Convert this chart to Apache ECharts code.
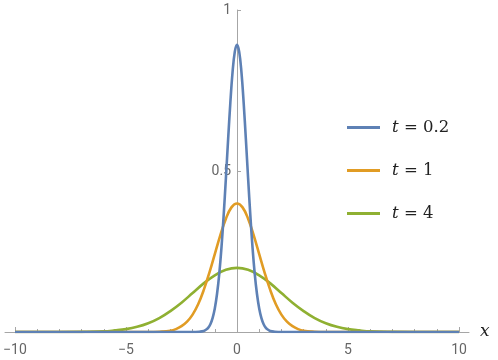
<!DOCTYPE html>
<html>
<head>
<meta charset="utf-8">
<script src="https://cdn.jsdelivr.net/npm/echarts@6/dist/echarts.min.js"></script>
<style>
  html, body { margin: 0; padding: 0; background: #fff; }
  #chart { width: 498px; height: 360px; }
</style>
</head>
<body>
<div id="chart"></div>
<script>
// values
var names = ['t = 0.2', 't = 1', 't = 4'];
var colors = ['#5E81B5', '#E19C24', '#8FB032'];

var x1 = [-10, -2, -1.7, -1.5, -1.4, -1.3, -1.2, -1.1, -1, -0.9, -0.8, -0.7, -0.6, -0.5, -0.4, -0.3, -0.2, -0.1,
    0, 0.1, 0.2, 0.3, 0.4, 0.5, 0.6, 0.7, 0.8, 0.9, 1, 1.1, 1.2, 1.3, 1.4, 1.5, 1.7, 2, 10];
var y1 = [0, 0, 0.001, 0.003, 0.007, 0.013, 0.024, 0.043, 0.073, 0.118, 0.180, 0.262, 0.363, 0.478, 0.598, 0.712, 0.807, 0.870,
    0.892, 0.870, 0.807, 0.712, 0.598, 0.478, 0.363, 0.262, 0.180, 0.118, 0.073, 0.043, 0.024, 0.013, 0.007, 0.003, 0.001, 0, 0];

var x2 = [-10, -4, -3.5, -3, -2.75, -2.5, -2.25, -2, -1.75, -1.5, -1.25, -1, -0.75, -0.5, -0.25,
    0, 0.25, 0.5, 0.75, 1, 1.25, 1.5, 1.75, 2, 2.25, 2.5, 2.75, 3, 3.5, 4, 10];
var y2 = [0, 0, 0.001, 0.004, 0.009, 0.018, 0.032, 0.054, 0.086, 0.130, 0.183, 0.242, 0.301, 0.352, 0.387,
    0.399, 0.387, 0.352, 0.301, 0.242, 0.183, 0.130, 0.086, 0.054, 0.032, 0.018, 0.009, 0.004, 0.001, 0, 0];

var x3 = [-10, -8, -7, -6, -5.5, -5, -4.5, -4, -3.5, -3, -2.5, -2, -1.5, -1, -0.5,
    0, 0.5, 1, 1.5, 2, 2.5, 3, 3.5, 4, 4.5, 5, 5.5, 6, 7, 8, 10];
var y3 = [0, 0, 0.0004, 0.002, 0.005, 0.009, 0.016, 0.027, 0.043, 0.065, 0.091, 0.121, 0.151, 0.176, 0.193,
    0.199, 0.193, 0.176, 0.151, 0.121, 0.091, 0.065, 0.043, 0.027, 0.016, 0.009, 0.005, 0.002, 0.0004, 0, 0];

var xLabels = [-10, -5, 0, 5, 10];
var xMajor = [-10, -5, 5, 10];
var xMinor = [-9, -8, -7, -6, -4, -3, -2, -1, 1, 2, 3, 4, 6, 7, 8, 9];
var yTicks = [0.5, 1];

function pairs(xs, ys) {
    return xs.map(function (v, i) { return [v, ys[i]]; });
}

var chart = echarts.init(document.getElementById('chart'));

var axisGray = '#a6a6a6';
var labelGray = '#666';
var gridLeft = 5, gridRight = 29, xMin = -10.45, xMax = 10.45;
// y axis sits on x = 0, inside the grid
var yOffset = -((0 - xMin) / (xMax - xMin) * (498 - gridLeft - gridRight));

var option = {
    animation: false,
    grid: { left: gridLeft, right: gridRight, top: 10, bottom: 28, containLabel: false, outerBoundsMode: 'none' },
    legend: {
        orient: 'vertical',
        left: 347,
        top: 119,
        padding: 0,
        icon: 'rect',
        itemWidth: 33,
        itemHeight: 3,
        itemGap: 26,
        data: names,
        formatter: function (name) {
            return '{i|t}{n|' + name.slice(1) + '}';
        },
        textStyle: {
            padding: [0, 0, 0, 7],
            rich: {
                i: { fontFamily: 'DejaVu Serif', fontStyle: 'italic', fontSize: 16.5, color: '#222', lineHeight: 20 },
                n: { fontFamily: 'DejaVu Serif', fontSize: 16.5, color: '#222', lineHeight: 20 }
            }
        }
    },
    xAxis: [
        {
            type: 'value',
            min: xMin,
            max: xMax,
            name: 'x',
            nameLocation: 'end',
            nameGap: 11,
            nameTextStyle: { fontFamily: 'DejaVu Serif', fontStyle: 'italic', fontSize: 17, color: '#222' },
            axisLine: { onZero: false, lineStyle: { color: axisGray, width: 1 } },
            axisTick: { inside: true, length: 5, customValues: xMajor, lineStyle: { color: axisGray } },
            axisLabel: {
                customValues: xLabels,
                margin: 11,
                color: labelGray,
                fontSize: 14,
                fontFamily: 'Roboto',
                formatter: function (v) { return String(v).replace('-', '\u2212'); }
            },
            splitLine: { show: false }
        },
        {
            type: 'value',
            position: 'bottom',
            min: xMin,
            max: xMax,
            axisLine: { show: false, onZero: false },
            axisTick: { inside: true, length: 3, customValues: xMinor, lineStyle: { color: axisGray } },
            axisLabel: { show: false },
            splitLine: { show: false }
        }
    ],
    yAxis: {
        type: 'value',
        position: 'left',
        offset: yOffset,
        min: 0,
        max: 1,
        axisLine: { show: true, onZero: false, lineStyle: { color: axisGray, width: 1 } },
        axisTick: { show: true, inside: true, length: 4, customValues: yTicks, lineStyle: { color: axisGray } },
        axisLabel: {
            customValues: yTicks,
            margin: 6,
            color: labelGray,
            fontSize: 14,
            fontFamily: 'Roboto'
        },
        splitLine: { show: false }
    },
    series: [
        { name: names[0], data: pairs(x1, y1) },
        { name: names[1], data: pairs(x2, y2) },
        { name: names[2], data: pairs(x3, y3) }
    ].map(function (s, i) {
        return {
            name: s.name,
            type: 'line',
            data: s.data,
            smooth: 0.4,
            showSymbol: false,
            symbol: 'none',
            color: colors[i],
            lineStyle: { width: 2.6, color: colors[i] },
            z: 3 - i
        };
    })
};

chart.setOption(option);
</script>
</body>
</html>
